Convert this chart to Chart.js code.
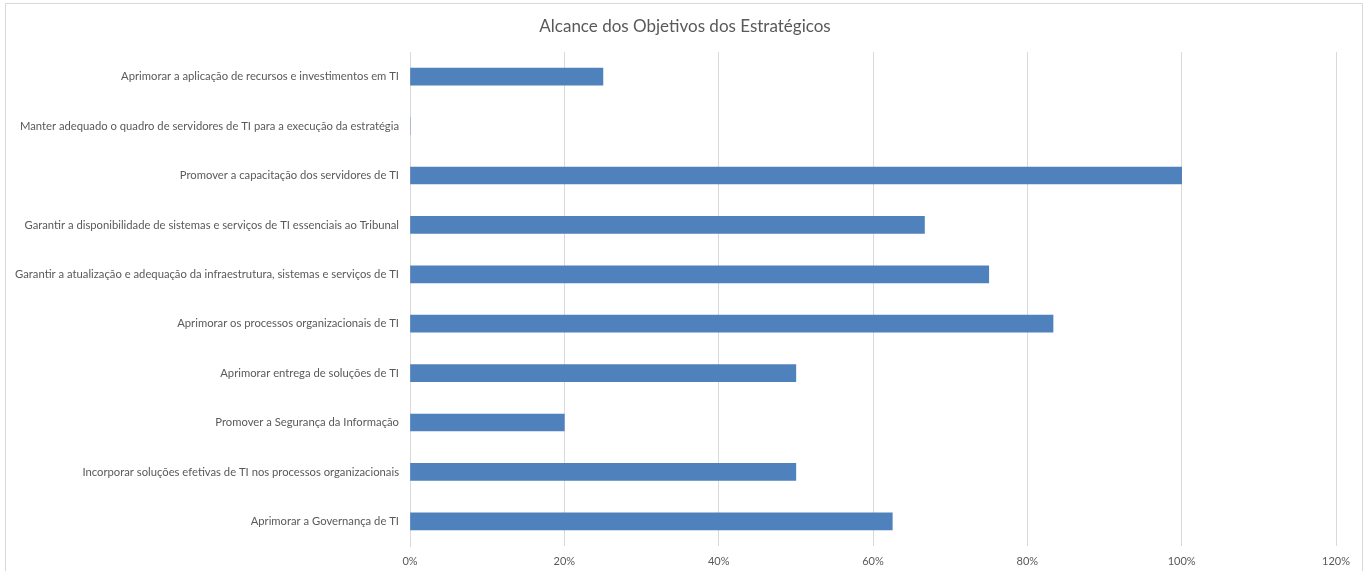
<!DOCTYPE html>
<html>
<head>
<meta charset="utf-8">
<script src="https://cdn.jsdelivr.net/npm/chart.js@4/dist/chart.umd.min.js"></script>
<style>
  html, body { margin: 0; padding: 0; background: #ffffff; overflow: hidden; }
  #frame { position: absolute; left: 5px; top: 3px; width: 1358px; height: 600px; border: 1px solid #d9d9d9; box-sizing: border-box; }
  #c { position: absolute; left: 0; top: 0; }
</style>
</head>
<body>
<div id="frame"></div>
<canvas id="c" width="1370" height="571"></canvas>
<script>
const titleText = "Alcance dos Objetivos dos Estratégicos";
const categories = [
  "Aprimorar a aplicação de recursos e investimentos em TI",
  "Manter adequado o quadro de servidores de TI para a execução da estratégia",
  "Promover a capacitação dos servidores de TI",
  "Garantir a disponibilidade de sistemas e serviços de TI essenciais ao Tribunal",
  "Garantir a atualização e adequação da infraestrutura, sistemas e serviços de TI",
  "Aprimorar os processos organizacionais de TI",
  "Aprimorar entrega de soluções de TI",
  "Promover a Segurança da Informação",
  "Incorporar soluções efetivas de TI nos processos organizacionais",
  "Aprimorar a Governança de TI"
];
const values = [0.25, 0, 1.0, 0.6667, 0.75, 0.8333, 0.5, 0.2, 0.5, 0.625];
const tickValues = [0, 0.2, 0.4, 0.6, 0.8, 1.0, 1.2];

const fontFamily = "Lato, 'Open Sans', 'Liberation Sans', sans-serif";
const textColor = "#595959";

const centeredTitle = {
  id: 'centeredTitle',
  afterDraw(chart) {
    const ctx = chart.ctx;
    ctx.save();
    ctx.font = "normal 17px " + fontFamily;
    ctx.fillStyle = textColor;
    ctx.textAlign = 'center';
    ctx.textBaseline = 'middle';
    ctx.fillText(titleText, chart.width / 2, 27);
    ctx.restore();
  }
};

new Chart(document.getElementById('c'), {
  type: 'bar',
  data: {
    labels: categories,
    datasets: [{
      data: values,
      backgroundColor: '#4f81bd',
      borderWidth: 0,
      barThickness: 17
    }]
  },
  plugins: [centeredTitle],
  options: {
    indexAxis: 'y',
    responsive: false,
    animation: false,
    devicePixelRatio: 1,
    layout: { padding: { left: 0, right: 34, top: 52, bottom: 0 } },
    plugins: {
      legend: { display: false },
      tooltip: { enabled: false },
      title: { display: false }
    },
    scales: {
      x: {
        min: 0,
        max: 1.2,
        afterBuildTicks: (s) => { s.ticks = tickValues.map(v => ({ value: v })); },
        afterFit: (s) => { s.height = 25; },
        ticks: {
          color: textColor,
          font: { family: fontFamily, size: 11 },
          padding: 9,
          callback: (v) => Math.round(v * 100) + '%'
        },
        grid: { color: '#d9d9d9', drawTicks: false, lineWidth: 1 },
        border: { display: false }
      },
      y: {
        afterFit: (s) => { s.width = 410; },
        ticks: {
          color: textColor,
          font: { family: fontFamily, size: 11.25 },
          padding: 11
        },
        grid: { display: false, drawTicks: false },
        border: { display: true, color: '#d9d9d9', width: 1 }
      }
    }
  }
});
</script>
</body>
</html>
